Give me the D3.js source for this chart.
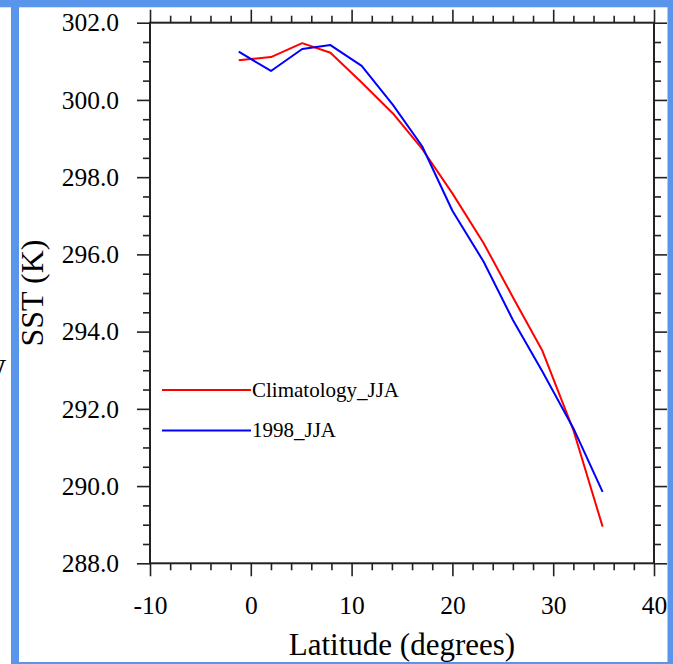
<!DOCTYPE html>
<html>
<head>
<meta charset="utf-8">
<script src="https://cdn.jsdelivr.net/npm/d3@7"></script>
<style>
  html, body { margin: 0; padding: 0; background: #fff; }
  svg { display: block; }
  text { font-family: "Liberation Serif", "Times New Roman", Times, serif; fill: #000; }
</style>
</head>
<body>
<svg id="chart" width="673" height="664"></svg>
<script>
// ---- data ----
const latitudes = [-1.2, 2, 5.1, 7.9, 11, 14.1, 17, 20, 23.1, 26, 28.9, 32, 34.9];
const climatologyJJA = [301.03, 301.11, 301.47, 301.22, 300.45, 299.65, 298.73, 297.58, 296.29, 294.89, 293.52, 291.45, 288.95];
const jja1998 = [301.25, 300.75, 301.32, 301.42, 300.88, 299.87, 298.8, 297.13, 295.81, 294.3, 292.98, 291.5, 289.85];
const seriesNames = ["Climatology_JJA", "1998_JJA"];
const seriesColors = ["#ff0000", "#0000ff"];
const xMajorTicks = [-10, 0, 10, 20, 30, 40];
const yMajorTicks = [288, 290, 292, 294, 296, 298, 300, 302];
const xDomain = [-10, 40];
const yDomain = [288, 302];
const xTitle = "Latitude (degrees)";
const yTitle = "SST (K)";

// ---- layout ----
const svg = d3.select("#chart");
const L = 150, R = 654, T = 22.7, B = 563.3;
const x = d3.scaleLinear().domain(xDomain).range([L, R]);
const y = d3.scaleLinear().domain(yDomain).range([B, T]);

const xMinor = d3.range(xDomain[0], xDomain[1] + 0.001, 2).filter(v => !xMajorTicks.includes(v));
const yMinor = d3.range(yDomain[0], yDomain[1] + 0.001, 0.5).filter(v => !yMajorTicks.includes(v));

function styleAxis(g) {
  g.select(".domain").remove();
  g.selectAll("line").attr("stroke", "#222").attr("stroke-width", 1.6);
  g.selectAll("text").style("font-size", "25.5px").attr("fill", "#000");
}

// minor ticks on all four sides
svg.append("g").attr("transform", `translate(0,${B})`)
  .call(d3.axisBottom(x).tickValues(xMinor).tickSize(7).tickFormat("")).call(styleAxis);
svg.append("g").attr("transform", `translate(0,${T})`)
  .call(d3.axisTop(x).tickValues(xMinor).tickSize(7).tickFormat("")).call(styleAxis);
svg.append("g").attr("transform", `translate(${L},0)`)
  .call(d3.axisLeft(y).tickValues(yMinor).tickSize(7).tickFormat("")).call(styleAxis);
svg.append("g").attr("transform", `translate(${R},0)`)
  .call(d3.axisRight(y).tickValues(yMinor).tickSize(7).tickFormat("")).call(styleAxis);

// major ticks
svg.append("g").attr("transform", `translate(0,${B})`)
  .call(d3.axisBottom(x).tickValues(xMajorTicks).tickSize(13).tickPadding(20).tickFormat(d => String(d))).call(styleAxis);
svg.append("g").attr("transform", `translate(0,${T})`)
  .call(d3.axisTop(x).tickValues(xMajorTicks).tickSize(13).tickFormat("")).call(styleAxis);
svg.append("g").attr("transform", `translate(${L},0)`)
  .call(d3.axisLeft(y).tickValues(yMajorTicks).tickSize(13).tickPadding(18).tickFormat(d => d.toFixed(1))).call(styleAxis);
svg.append("g").attr("transform", `translate(${R},0)`)
  .call(d3.axisRight(y).tickValues(yMajorTicks).tickSize(13).tickFormat("")).call(styleAxis);

// frame
svg.append("rect").attr("x", L).attr("y", T).attr("width", R - L).attr("height", B - T)
  .attr("fill", "none").attr("stroke", "#222").attr("stroke-width", 2);

// lines
const series = [climatologyJJA, jja1998];
const line = d3.line().x((d, i) => x(latitudes[i])).y(d => y(d));
series.forEach((s, k) => {
  svg.append("path").datum(s).attr("d", line)
    .attr("fill", "none").attr("stroke", seriesColors[k]).attr("stroke-width", 2)
    .attr("stroke-linejoin", "round");
});

// legend
const legY = [390, 430.5];
seriesNames.forEach((name, k) => {
  svg.append("line").attr("x1", 162).attr("x2", 251).attr("y1", legY[k]).attr("y2", legY[k])
    .attr("stroke", seriesColors[k]).attr("stroke-width", 2);
  svg.append("text").attr("x", 252).attr("y", legY[k] + 6.5)
    .style("font-size", "21px").text(name);
});

// axis titles
svg.append("text").attr("x", (L + R) / 2).attr("y", 655).attr("text-anchor", "middle")
  .style("font-size", "31px").text(xTitle);
svg.append("text").attr("transform", `translate(43,${(T + B) / 2}) rotate(-90)`)
  .attr("text-anchor", "middle").style("font-size", "32px").text(yTitle);

// partially visible letter at far left (clipped in reference)
svg.append("text").attr("x", 6).attr("y", 379).attr("text-anchor", "end")
  .style("font-size", "30px").text("W");

// blue screenshot border
const frameColor = "#5a95ec";
svg.append("rect").attr("x", 0).attr("y", 0).attr("width", 673).attr("height", 7.3).attr("fill", frameColor);
svg.append("rect").attr("x", 11).attr("y", 0).attr("width", 8).attr("height", 664).attr("fill", frameColor);
svg.append("rect").attr("x", 667.5).attr("y", 0).attr("width", 6).attr("height", 664).attr("fill", frameColor);
svg.append("rect").attr("x", 11).attr("y", 662).attr("width", 662).attr("height", 2).attr("fill", frameColor);
</script>
</body>
</html>
